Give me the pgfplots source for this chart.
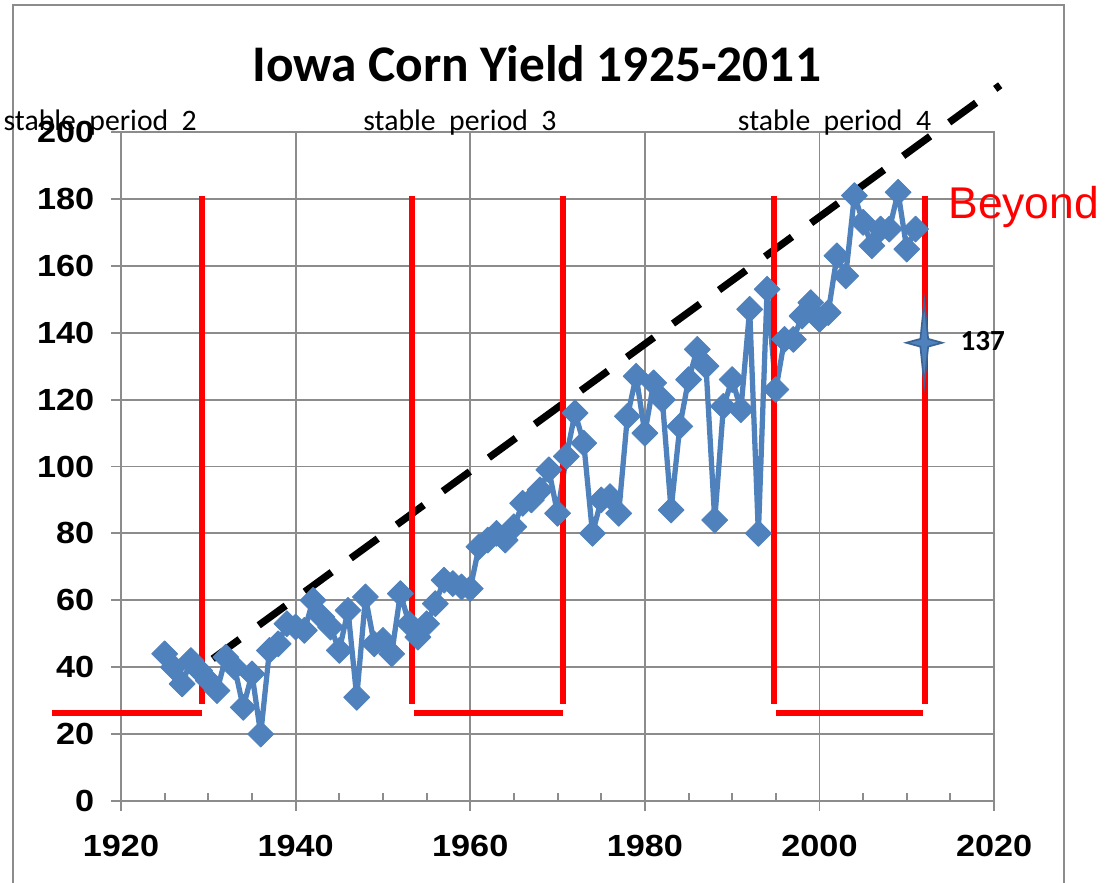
\documentclass[border=0pt]{standalone}
\usepackage{fontspec}
\setmainfont{Carlito}
\newfontfamily\arialfont{Liberation Sans}
\newfontfamily\tickfont{Liberation Sans}[FakeStretch=1.12]
\usepackage{pgfplots}
\pgfplotsset{compat=1.18}
\definecolor{xlblue}{HTML}{4F81BD}
\definecolor{xlblueedge}{HTML}{3A6496}
\definecolor{gridgrey}{HTML}{8C8C8C}
\pgfdeclareplotmark{star4}{%
  \pgfpathmoveto{\pgfpoint{0pt}{15pt}}%
  \pgfpathlineto{\pgfpoint{1.4pt}{1.4pt}}%
  \pgfpathlineto{\pgfpoint{6.5pt}{0pt}}%
  \pgfpathlineto{\pgfpoint{1.4pt}{-1.4pt}}%
  \pgfpathlineto{\pgfpoint{0pt}{-15pt}}%
  \pgfpathlineto{\pgfpoint{-1.4pt}{-1.4pt}}%
  \pgfpathlineto{\pgfpoint{-6.5pt}{0pt}}%
  \pgfpathlineto{\pgfpoint{-1.4pt}{1.4pt}}%
  \pgfpathclose
  \pgfusepathqfillstroke}
\pgfplotstableread{
year yield
1925 44
1926 40
1927 35
1928 42
1929 39
1930 36
1931 33
1932 43
1933 40
1934 28
1935 38
1936 20
1937 45
1938 47
1939 53
1940 52
1941 51
1942 60
1943 55
1944 52
1945 45
1946 57
1947 31
1948 61
1949 47
1950 48
1951 44
1952 62
1953 53
1954 49
1955 53
1956 59
1957 66
1958 65
1959 64
1960 63.5
1961 76
1962 78
1963 80
1964 78
1965 82
1966 89
1967 90
1968 93
1969 99
1970 86
1971 103
1972 116
1973 107
1974 80
1975 90
1976 91
1977 86
1978 115
1979 127
1980 110
1981 125
1982 120
1983 87
1984 112
1985 126
1986 135
1987 130
1988 84
1989 118
1990 126
1991 117
1992 147
1993 80
1994 153
1995 123
1996 138
1997 138
1998 145
1999 149
2000 144
2001 146
2002 163
2003 157
2004 181
2005 173
2006 166
2007 171
2008 171
2009 182
2010 165
2011 171
}\yieldtable
\begin{document}
\begin{tikzpicture}
\path[use as bounding box] (-43.56pt,-29.52pt) rectangle (357.1pt,288.34pt);
\draw[gridgrey, line width=0.9pt] (-38.9pt,-45pt) rectangle (339.5pt,286.5pt);
\begin{axis}[
  at={(0,0)}, anchor=south west,
  scale only axis, width=314.3pt, height=240.8pt,
  xmin=1920, xmax=2020, ymin=0, ymax=200,
  xtick={1920,1940,...,2020}, ytick={0,20,...,200},
  extra x ticks={1925,1930,1935,1945,1950,1955,1965,1970,1975,1985,1990,1995,2005,2010,2015},
  extra x tick labels={},
  extra x tick style={grid=none, tick align=inside, major tick length=3pt},
  xtick pos=bottom, ytick pos=left,
  grid=major,
  major grid style={gridgrey, line width=0.7pt},
  axis line style={gridgrey, line width=0.7pt},
  tick style={gridgrey, line width=0.7pt},
  tick align=outside, major tick length=3.6pt,
  ticklabel style={font=\tickfont\bfseries\fontsize{11}{13}\selectfont, text=black},
  x tick label style={yshift=-5pt},
  y tick label style={xshift=-2.5pt},
  /pgf/number format/1000 sep={},
  /pgf/number format/assume math mode=true,
  clip=false,
]
\addplot[black, line width=2.6pt, dash pattern=on 12pt off 8.5pt, no marks]
  coordinates {(1930.5,42.5) (2020.7,214)};
\addplot[xlblue, line width=1.9pt, line join=round, mark=square*, mark size=3.3pt,
  mark options={rotate=45, fill=xlblue, draw=xlblue, line width=0.3pt}]
  table[x=year, y=yield] {\yieldtable};
\addplot[red, line width=2.3pt, no marks] coordinates {(1912.1,26.3) (1929.3,26.3)};
\addplot[red, line width=2.3pt, no marks] coordinates {(1929.3,29) (1929.3,181)};
\addplot[red, line width=2.3pt, no marks] coordinates {(1953.3,29) (1953.3,181)};
\addplot[red, line width=2.3pt, no marks] coordinates {(1953.6,26.3) (1970.6,26.3)};
\addplot[red, line width=2.3pt, no marks] coordinates {(1970.6,29) (1970.6,181)};
\addplot[red, line width=2.3pt, no marks] coordinates {(1994.8,29) (1994.8,181)};
\addplot[red, line width=2.3pt, no marks] coordinates {(1995.0,26.3) (2011.9,26.3)};
\addplot[red, line width=2.3pt, no marks] coordinates {(2012.1,29) (2012.1,181)};
\addplot[only marks, mark=star4, mark options={fill=xlblue, draw=xlblueedge, line width=0.6pt}]
  coordinates {(2012,137)};
\node[anchor=base, inner sep=0pt, font=\bfseries\fontsize{18.5}{22}\selectfont] at (axis cs:1967.6,215.2) {Iowa Corn Yield 1925-2011};
\node[anchor=base west, inner sep=0pt, font=\fontsize{10.7}{13}\selectfont] at (axis cs:1906.5,200.6) {stable\ \ period\ \ 2};
\node[anchor=base west, inner sep=0pt, font=\fontsize{10.7}{13}\selectfont] at (axis cs:1947.7,200.6) {stable\ \ period\ \ 3};
\node[anchor=base west, inner sep=0pt, font=\fontsize{10.7}{13}\selectfont] at (axis cs:1990.6,200.6) {stable\ \ period\ \ 4};
\node[anchor=base west, inner sep=0pt, text=red, font=\arialfont\fontsize{16}{19}\selectfont] at (axis cs:2014.7,174.3) {Beyond};
\node[anchor=base west, inner sep=0pt, font=\bfseries\fontsize{10.5}{12}\selectfont] at (axis cs:2016.1,134.8) {137};
\end{axis}
\end{tikzpicture}
\end{document}
